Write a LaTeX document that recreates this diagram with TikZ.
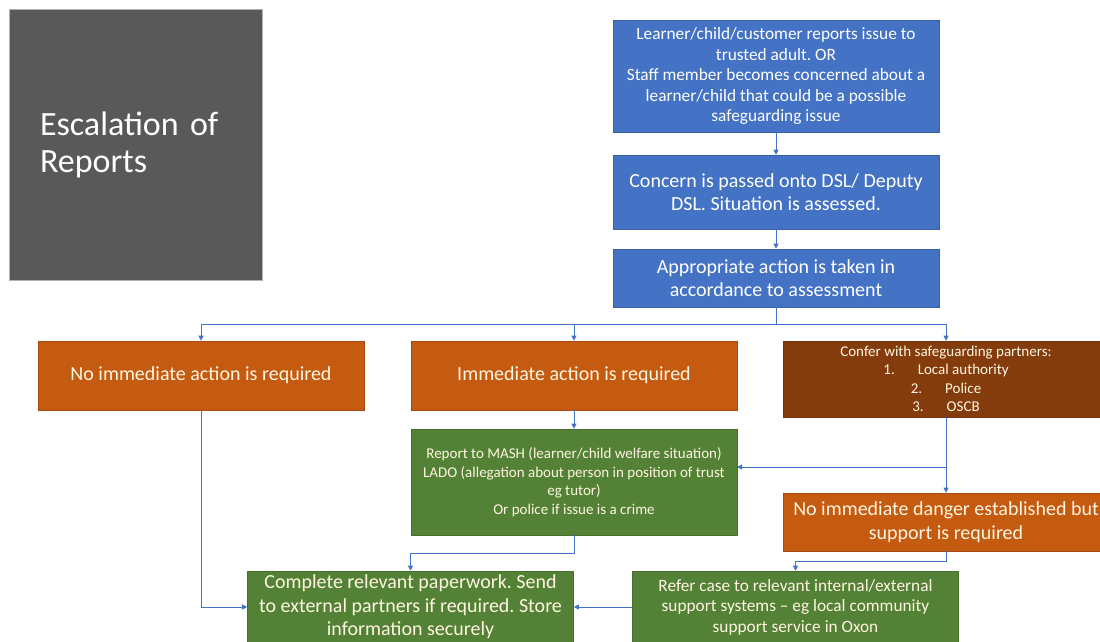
\documentclass[tikz,border=0pt]{standalone}
\usepackage{fontspec}
\setmainfont{Carlito}
\usepackage{tikz}
\usetikzlibrary{arrows.meta, calc}
\definecolor{stepblue}{HTML}{4472C4}
\definecolor{steporange}{HTML}{C55A11}
\definecolor{stepbrown}{HTML}{843C0C}
\definecolor{stepgreen}{HTML}{538135}
\definecolor{titlegray}{HTML}{595959}
\definecolor{cream}{RGB}{255,246,226}
\frenchspacing
\tikzset{
    stepbox/.style={rectangle, draw=#1!85!black, line width=0.6pt, fill=#1, align=center,
        minimum width=326pt, inner sep=2pt, text=cream},
    link/.style={draw=stepblue, line width=0.8pt},
    arrow/.style={link, -{Triangle[length=5pt, width=5pt]}},
    bigtext/.style={font=\fontsize{20}{23.5}\selectfont},
    midtext/.style={font=\fontsize{17.3}{20.5}\selectfont},
    smalltext/.style={font=\fontsize{15}{18.5}\selectfont}
}

\begin{document}
\begin{tikzpicture}[x=1pt, y=-1pt]
            \useasboundingbox (0,0) rectangle (1100,642);

            % title panel
            \node[rectangle, fill=titlegray, draw=gray!60, minimum width=253pt, minimum height=271pt,
                  inner xsep=31pt, text width=191pt, align=left, text=white,
                  font=\fontsize{34}{37}\selectfont] (title) at (135.5,144.5) {Escalation of\\Reports};

            % first steps (blue)
            \node[stepbox=stepblue, minimum height=112pt, text=white, midtext] (report) at (776,76)
                {Learner/child/customer reports issue to\\trusted adult. OR\\Staff member becomes concerned about a\\learner/child that could be a possible\\safeguarding issue};
            \node[stepbox=stepblue, minimum height=74pt, text=white, bigtext] (dsl) at (776,192)
                {Concern is passed onto DSL/ Deputy\\DSL. Situation is assessed.};
            \node[stepbox=stepblue, minimum height=58pt, text=white, bigtext] (action) at (776,278)
                {Appropriate action is taken in\\accordance to assessment};
            \draw[arrow] (report) -- (dsl);
            \draw[arrow] (dsl) -- (action);

            % three outcomes
            \node[stepbox=steporange, minimum height=69pt, bigtext] (noaction) at (201,375.5)
                {No immediate action is required};
            \node[stepbox=steporange, minimum height=69pt, bigtext] (immediate) at (574,375.5)
                {Immediate action is required};
            \node[stepbox=stepbrown, minimum height=76pt, smalltext] (confer) at (946,379)
                {Confer with safeguarding partners:\\1.\hspace{23pt}Local authority\\2.\hspace{23pt}Police\\3.\hspace{23pt}OSCB};
            \coordinate (split) at (776,324);
            \draw[link] (action) -- (split);
            \draw[arrow] (split) -| (noaction);
            \draw[arrow] (split) -| (immediate);
            \draw[arrow] (split) -| (confer);

            % follow-up steps
            \node[stepbox=stepgreen, minimum height=106pt, smalltext] (mash) at (574,482)
                {Report to MASH (learner/child welfare situation)\\LADO (allegation about person in position of trust\\eg tutor)\\Or police if issue is a crime};
            \node[stepbox=steporange, minimum height=58pt, bigtext] (danger) at (946,522)
                {No immediate danger established but\\support is required};
            \node[stepbox=stepgreen, minimum height=72pt, bigtext] (complete) at (410.5,607)
                {Complete relevant paperwork. Send\\to external partners if required. Store\\information securely};
            \node[stepbox=stepgreen, minimum height=72pt, midtext] (refer) at (795.5,607)
                {Refer case to relevant internal/external\\support systems -- eg local community\\support service in Oxon};
            \coordinate (masheast) at (737,467);

            \draw[arrow] (immediate) -- (mash);
            \draw[arrow] (confer) -- (danger);
            \draw[arrow] (confer.south) |- (masheast);
            \draw[arrow] (danger.south) -- ++(0,10) -| (refer.north);
            \draw[arrow] (mash.south) -- ++(0,18) -| (complete.north);
            \draw[arrow] (noaction.south) |- (complete.west);
            \draw[arrow] (refer) -- (complete);
        \end{tikzpicture}
\end{document}
